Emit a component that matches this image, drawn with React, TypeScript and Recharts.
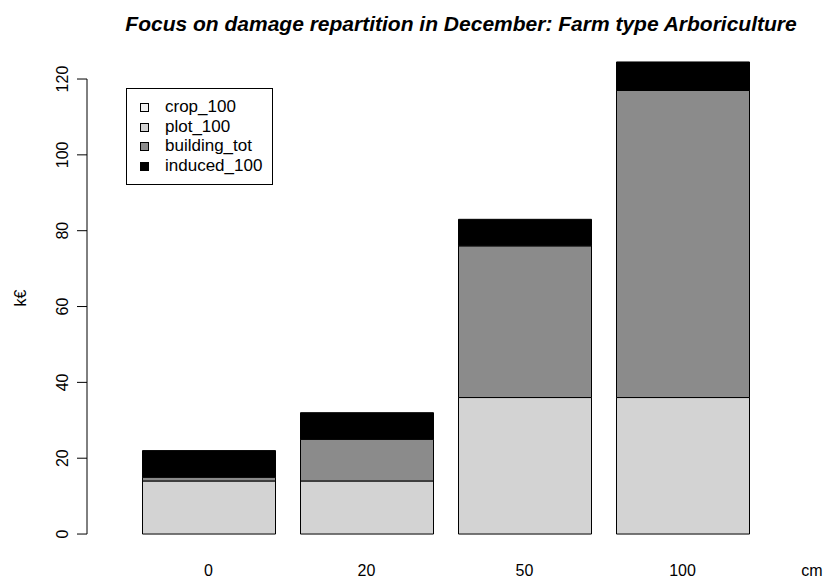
import { Bar, BarChart, ReferenceLine, XAxis, YAxis } from 'recharts'

if (typeof document !== 'undefined') document.body.style.margin = '0'

const FONT = '"Liberation Sans", Arial, sans-serif'

const categories = ['0', '20', '50', '100']
const crop100 = [0, 0, 0, 0]
const plot100 = [14, 14, 36, 36]
const buildingTot = [1, 11, 40, 81]
const induced100 = [7, 7, 7, 7.5]

const yTicks = [0, 20, 40, 60, 80, 100, 120]

const seriesKeys = ['crop_100', 'plot_100', 'building_tot', 'induced_100']
const seriesColors = ['#f2f2f2', '#d3d3d3', '#8b8b8b', '#000000']

const data = categories.map((c, i) => ({
  cat: c,
  crop_100: crop100[i],
  plot_100: plot100[i],
  building_tot: buildingTot[i],
  induced_100: induced100[i],
}))

function YTick({ x, y, payload }: any) {
  return (
    <text
      x={x}
      y={y}
      transform={`rotate(-90, ${x}, ${y})`}
      textAnchor="middle"
      fontSize={16}
      fontFamily={FONT}
      fill="#000"
    >
      {payload.value}
    </text>
  )
}

function XTick({ x, y, payload }: any) {
  return (
    <text x={x} y={y + 23} textAnchor="middle" fontSize={16} fontFamily={FONT} fill="#000">
      {payload.value}
    </text>
  )
}

function LegendBox() {
  return (
    <div
      style={{
        position: 'absolute',
        left: 126,
        top: 88,
        width: 147,
        height: 97,
        border: '1px solid #000',
        boxSizing: 'border-box',
        background: '#fff',
        fontFamily: FONT,
        fontSize: 17,
      }}
    >
      {seriesKeys.map((k, i) => (
        <div key={k} style={{ position: 'absolute', left: 0, top: 19 + i * 19.5, height: 0 }}>
          <div
            style={{
              position: 'absolute',
              left: 13,
              top: -5,
              width: 9,
              height: 9,
              border: '1px solid #000',
              boxSizing: 'border-box',
              background: seriesColors[i],
            }}
          />
          <div style={{ position: 'absolute', left: 38, top: -11, lineHeight: '19px', whiteSpace: 'nowrap' }}>
            {k}
          </div>
        </div>
      ))}
    </div>
  )
}

export default function App() {
  return (
    <div style={{ position: 'relative', width: 828, height: 578, background: '#fff' }}>
      <BarChart width={828} height={578} data={data} margin={{ top: 43, right: 28, bottom: 0, left: 0 }}>
        <XAxis
          dataKey="cat"
          height={25}
          axisLine={false}
          tickLine={false}
          tickSize={0}
          tickMargin={0}
          padding={{ left: 42.5, right: 38.5 }}
          tick={<XTick />}
          interval={0}
          label={({ viewBox }: any) => (
            <text
              x={viewBox.x + viewBox.width + 12}
              y={viewBox.y + 23}
              textAnchor="middle"
              fontSize={16}
              fontFamily={FONT}
              fill="#000"
            >
              cm
            </text>
          )}
        />
        <XAxis xAxisId="edge" type="number" domain={[0, 1]} hide />
        <YAxis
          width={87}
          domain={[-5, 129.5]}
          ticks={yTicks}
          axisLine={false}
          tickLine={{ stroke: '#000' }}
          tickSize={10}
          tickMargin={9}
          tick={<YTick />}
          interval={0}
          allowDataOverflow
          label={({ viewBox }: any) => (
            <text
              x={26}
              y={viewBox.y + viewBox.height / 2}
              transform={`rotate(-90, 26, ${viewBox.y + viewBox.height / 2})`}
              textAnchor="middle"
              fontSize={16}
              fontFamily={FONT}
              fill="#000"
            >
              k€
            </text>
          )}
        />
        <ReferenceLine
          xAxisId="edge"
          segment={[
            { x: 0, y: 0 },
            { x: 0, y: 120 },
          ]}
          stroke="#000"
          ifOverflow="visible"
        />
        {seriesKeys.map((k, i) => (
          <Bar
            key={k}
            dataKey={k}
            stackId="s"
            fill={seriesColors[i]}
            stroke="#000"
            strokeWidth={1}
            barSize={133}
            isAnimationActive={false}
          />
        ))}
      </BarChart>
      <LegendBox />
      <div
        style={{
          position: 'absolute',
          left: 461,
          top: 13,
          transform: 'translateX(-50%)',
          whiteSpace: 'nowrap',
          fontFamily: FONT,
          fontSize: 21,
          lineHeight: '21px',
          fontWeight: 'bold',
          fontStyle: 'italic',
          color: '#000',
        }}
      >
        Focus on damage repartition in December: Farm type Arboriculture
      </div>
    </div>
  )
}
